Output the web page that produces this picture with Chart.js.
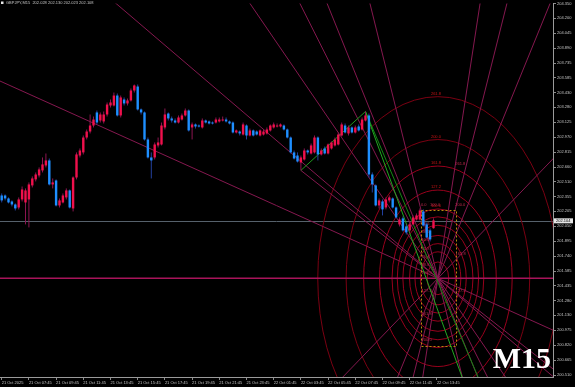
<!DOCTYPE html>
<html>
<head>
<meta charset="utf-8">
<script src="https://cdn.jsdelivr.net/npm/chart.js@4.4.1/dist/chart.umd.min.js"></script>
<style>
  html, body { margin: 0; padding: 0; background: #000; }
  canvas { display: block; }
</style>
</head>
<body>
<canvas id="chart" width="575" height="387"></canvas>
<script>
// GBPJPY M15 candles, one entry per bar
const opens = [
  202.366,202.366,202.335,202.304,202.273,202.242,202.325,202.294,202.325,202.470,
  202.532,202.573,202.625,202.676,202.728,202.480,202.521,202.263,202.294,202.346,
  202.418,202.232,202.552,202.779,202.811,202.965,203.027,203.089,203.224,203.141,
  203.131,203.203,203.296,203.296,203.399,203.193,203.358,203.317,203.348,203.451,
  203.492,203.255,203.224,202.945,202.759,202.759,202.883,202.893,203.069,203.213,
  203.162,203.141,203.120,203.151,203.193,203.244,203.069,203.100,203.089,203.069,
  203.141,203.131,203.120,203.120,203.131,203.141,203.151,203.131,203.120,203.017,
  203.027,202.996,203.089,202.986,203.038,203.027,202.986,202.996,203.007,203.038,
  203.069,203.079,203.079,203.089,203.048,202.965,202.811,202.779,202.707,202.738,
  202.831,202.800,202.811,202.965,202.790,202.852,202.800,202.852,202.883,202.893,
  202.986,203.089,203.007,203.069,203.017,203.079,203.048,203.141,203.193,202.583,
  202.470,202.263,202.304,202.242,202.315,202.335,202.242,202.067,202.129,202.046,
  202.005,202.067,202.118,202.118,202.201,202.067,202.005,202.028
];
const highs = [
  202.387,202.377,202.346,202.315,202.284,202.346,202.459,202.439,202.501,202.563,
  202.604,202.656,202.759,202.800,202.748,202.542,202.532,202.335,202.387,202.439,
  202.428,202.563,202.811,202.852,202.986,203.048,203.203,203.182,203.244,203.224,
  203.234,203.327,203.358,203.430,203.420,203.399,203.379,203.368,203.472,203.513,
  203.513,203.265,203.234,202.965,202.811,202.914,202.965,203.120,203.265,203.224,
  203.182,203.162,203.193,203.213,203.265,203.255,203.120,203.110,203.100,203.162,
  203.151,203.141,203.131,203.172,203.172,203.182,203.172,203.141,203.131,203.048,
  203.038,203.120,203.100,203.058,203.048,203.038,203.048,203.048,203.069,203.100,
  203.120,203.110,203.110,203.100,203.058,202.976,202.831,202.811,202.779,202.852,
  202.841,202.903,202.986,202.976,202.852,202.872,202.903,202.924,202.965,203.017,
  203.120,203.110,203.089,203.079,203.089,203.100,203.172,203.234,203.213,202.604,
  202.480,202.335,202.325,202.346,202.366,202.346,202.253,202.139,202.149,202.067,
  202.087,202.160,202.180,202.232,202.222,202.087,202.025,202.130
];
const lows = [
  202.294,202.315,202.284,202.253,202.211,202.222,202.304,202.067,202.036,202.449,
  202.511,202.552,202.604,202.656,202.470,202.439,202.253,202.242,202.284,202.325,
  202.232,202.201,202.532,202.759,202.790,202.945,203.007,203.069,203.100,203.120,
  203.110,203.182,203.275,203.286,203.182,203.172,203.296,203.296,203.337,203.430,
  203.244,203.203,202.934,202.748,202.542,202.738,202.862,202.883,203.048,203.141,
  203.120,203.110,203.110,203.141,203.182,203.027,202.945,203.058,203.069,203.058,
  203.110,203.100,203.100,203.110,203.120,203.131,203.120,203.100,203.007,203.007,
  202.986,202.986,202.945,202.976,202.976,202.986,202.976,202.986,202.996,203.027,
  203.058,203.069,203.069,203.038,202.955,202.800,202.738,202.707,202.625,202.728,
  202.790,202.790,202.800,202.728,202.779,202.790,202.790,202.841,202.872,202.883,
  202.976,203.007,202.986,203.007,203.007,203.027,203.038,203.131,202.552,202.397,
  202.253,202.232,202.160,202.222,202.294,202.232,202.129,202.046,201.994,201.963,
  201.984,202.056,202.108,202.108,202.046,201.922,201.891,202.023
];
const closes = [
  202.315,202.335,202.294,202.273,202.232,202.325,202.428,202.418,202.480,202.542,
  202.583,202.635,202.687,202.728,202.480,202.501,202.263,202.315,202.366,202.418,
  202.242,202.552,202.790,202.831,202.965,203.027,203.089,203.151,203.120,203.203,
  203.203,203.306,203.327,203.399,203.193,203.379,203.317,203.348,203.451,203.503,
  203.255,203.224,202.945,202.759,202.728,202.893,202.914,203.089,203.203,203.162,
  203.141,203.120,203.172,203.193,203.244,203.038,203.100,203.079,203.079,203.141,
  203.120,203.110,203.110,203.151,203.151,203.151,203.131,203.110,203.017,203.038,
  203.007,203.100,202.986,203.038,202.986,202.996,203.038,203.027,203.048,203.089,
  203.100,203.089,203.100,203.048,202.965,202.811,202.748,202.717,202.759,202.831,
  202.811,202.883,202.965,202.790,202.831,202.800,202.893,202.914,202.945,202.996,
  203.100,203.017,203.069,203.017,203.069,203.038,203.151,203.193,202.583,202.480,
  202.263,202.315,202.222,202.325,202.346,202.242,202.139,202.118,202.005,201.984,
  202.067,202.139,202.160,202.211,202.056,201.932,201.912,202.108
];

const timeLabels = ["21 Oct 2025","21 Oct 07:45","21 Oct 09:45","21 Oct 11:45","21 Oct 13:45",
  "21 Oct 15:45","21 Oct 17:45","21 Oct 19:45","21 Oct 21:45","21 Oct 23:45","22 Oct 01:45",
  "22 Oct 03:45","22 Oct 05:45","22 Oct 07:45","22 Oct 09:45","22 Oct 11:45","22 Oct 13:45"];
const timeLabelBars = [0,8,16,24,32,40,48,56,64,72,80,88,96,104,112,120,128];

const priceTicks = [200.510,200.665,200.820,200.975,201.130,201.280,201.435,201.585,201.740,
  201.895,202.050,202.205,202.355,202.510,202.660,202.815,202.970,203.125,203.280,203.430,
  203.585,203.735,203.890,204.045,204.200,204.350];

const titleText = "GBPJPY,M15  202.028 202.130 202.023 202.108";
const bidPrice = 202.104;

// fibo arcs / fan: centre (bar, price), radii of the 100% arc in bars and price
const arcCenter = [128.3, 201.51];
const arcRadius100 = [13.5, 0.717];
const arcLevels = [0.236,0.382,0.5,0.618,0.764,0.886,1,1.272,1.618,2,2.618];
const arcLabelLevels = [1,1.272,1.618,2,2.618];
// second point of every fan line through the centre
const fanPoints = [[33.6,204.351],[73.0,204.351],[87.7,204.351],[95.7,204.351],[108.3,204.351],
  [140.7,204.351],[148.6,204.351],[161.3,204.351],[162.1,202.743],[162.1,201.51],[162.1,200.975]];
// swing points for the green lines
const swingLow = [88, 202.625];
const swingHigh = [107, 203.234];
const greenEnds = [[135.4, 200.49],[140.1, 200.49]];
// dashed box and its level texts
const boxCorners = [[123.3, 202.221],[133.6, 200.818]];
const boxLabels = [
  [123.3,202.272,"0.0"],[126.0,202.272,"100.0"],[133.4,202.272,"200.0"],[133.4,202.692,"261.8"],
  [123.5,202.077,"23.6"],[123.5,201.985,"38.2"],[123.5,201.903,"50.0"],[123.5,201.811,"61.8"],
  [123.5,201.729,"76.4"],[123.5,201.647,"88.6"],[123.5,201.565,"100.0"],[123.5,201.381,"127.2"],
  [123.5,201.145,"161.8"],[123.5,200.869,"200.0"],[133.5,201.760,"161.8"],[133.5,201.381,"127.2"]
];

const xMin = -0.5, xMax = 162.15;
const yMin = 200.49, yMax = 204.351;
const FONT = "'Liberation Sans', Arial, sans-serif";

const drawPlugin = {
  id: "mt4draw",
  beforeDatasetsDraw(chart) {
    const { ctx, chartArea: a, scales: { x, y } } = chart;
    ctx.save();
    ctx.beginPath();
    ctx.rect(a.left, a.top, a.right - a.left, a.bottom - a.top);
    ctx.clip();

    // bid line
    const by = Math.round(y.getPixelForValue(bidPrice)) + 0.5;
    ctx.strokeStyle = "#56616b";
    ctx.lineWidth = 1;
    ctx.beginPath(); ctx.moveTo(a.left, by); ctx.lineTo(a.right, by); ctx.stroke();

    const cx = x.getPixelForValue(arcCenter[0]);
    const cy = y.getPixelForValue(arcCenter[1]);

    // arcs
    arcLevels.forEach(k => {
      const rx = Math.abs(x.getPixelForValue(arcCenter[0] + arcRadius100[0] * k) - cx);
      const ry = Math.abs(y.getPixelForValue(arcCenter[1] + arcRadius100[1] * k) - cy);
      ctx.strokeStyle = k >= 2 ? "#7a0012" : "#98001c";
      ctx.beginPath();
      ctx.ellipse(cx, cy, rx, ry, 0, 0, Math.PI * 2);
      ctx.stroke();
    });

    // fan lines through the centre
    fanPoints.forEach((p, i) => {
      const px = x.getPixelForValue(p[0]), py = y.getPixelForValue(p[1]);
      const dx = px - cx, dy = py - cy, len = Math.hypot(dx, dy);
      ctx.strokeStyle = i === 9 ? "#a8145a" : "#85184f";
      ctx.lineWidth = i === 9 ? 1.4 : 1;
      ctx.beginPath();
      ctx.moveTo(cx - dx / len * 1500, cy - dy / len * 1500);
      ctx.lineTo(cx + dx / len * 1500, cy + dy / len * 1500);
      ctx.stroke();
    });
    // ray from the swing low through the centre
    {
      const lx = x.getPixelForValue(swingLow[0]), ly = y.getPixelForValue(swingLow[1]);
      const dx = cx - lx, dy = cy - ly, len = Math.hypot(dx, dy);
      ctx.strokeStyle = "#85184f"; ctx.lineWidth = 1;
      ctx.beginPath(); ctx.moveTo(lx, ly);
      ctx.lineTo(lx + dx / len * 1500, ly + dy / len * 1500); ctx.stroke();
    }

    // dashed box
    const bx0 = x.getPixelForValue(boxCorners[0][0]), by0 = y.getPixelForValue(boxCorners[0][1]);
    const bx1 = x.getPixelForValue(boxCorners[1][0]), by1 = y.getPixelForValue(boxCorners[1][1]);
    ctx.strokeStyle = "#b58a0c"; ctx.setLineDash([2, 2]);
    ctx.strokeRect(Math.round(bx0) + 0.5, Math.round(by0) + 0.5, Math.round(bx1 - bx0), Math.round(by1 - by0));
    ctx.setLineDash([]);

    // level texts
    ctx.font = "4px " + FONT;
    ctx.textBaseline = "bottom";
    ctx.fillStyle = "#c81414";
    ctx.textAlign = "center";
    arcLabelLevels.forEach(k => {
      const ty = y.getPixelForValue(arcCenter[1] + arcRadius100[1] * k);
      ctx.fillText((k * 100).toFixed(1), cx - 2, ty - 1);
    });
    ctx.textAlign = "left";
    ctx.fillStyle = "#c0284c";
    boxLabels.forEach(l => {
      ctx.fillText(l[2], x.getPixelForValue(l[0]), y.getPixelForValue(l[1]) + 2);
    });
    ctx.restore();
  },
  afterDatasetsDraw(chart) {
    const { ctx, chartArea: a, scales: { x, y } } = chart;
    ctx.save();
    ctx.beginPath();
    ctx.rect(a.left, a.top, a.right - a.left, a.bottom - a.top);
    ctx.clip();
    for (let i = 0; i < closes.length; i++) {
      const px = x.getPixelForValue(i);
      const up = closes[i] >= opens[i];
      const yo = y.getPixelForValue(opens[i]), yc = y.getPixelForValue(closes[i]);
      const yh = y.getPixelForValue(highs[i]), yl = y.getPixelForValue(lows[i]);
      ctx.fillStyle = up ? "#8c1450" : "#23409e";
      ctx.fillRect(px - 0.5, yh, 1, yl - yh);
      ctx.fillStyle = up ? "#f0104c" : "#1e8fff";
      const top = Math.min(yo, yc), h = Math.max(1, Math.abs(yc - yo));
      ctx.fillRect(px - 1.2, top, 2.4, h);
    }
    ctx.restore();
  },
  afterDraw(chart) {
    const { ctx, chartArea: a, scales: { y } } = chart;
    ctx.save();
    // title
    ctx.fillStyle = "#e8e8e8";
    ctx.fillRect(1, 1.5, 2.5, 2.5);
    ctx.font = "4px " + FONT;
    ctx.fillStyle = "#c4c4c4";
    ctx.textBaseline = "middle";
    ctx.textAlign = "left";
    ctx.fillText(titleText, 6, 3);
    // timeframe stamp
    ctx.font = "bold 30px 'Liberation Serif', 'Times New Roman', serif";
    ctx.fillStyle = "#ffffff";
    ctx.textAlign = "right";
    ctx.textBaseline = "alphabetic";
    ctx.fillText("M15", 551, 368);
    // bid label on the price axis
    const by = y.getPixelForValue(bidPrice);
    ctx.fillStyle = "#e6e6e6";
    ctx.fillRect(a.right + 1, by - 2.5, 19, 5);
    ctx.fillStyle = "#000000";
    ctx.font = "4px " + FONT;
    ctx.textAlign = "left";
    ctx.textBaseline = "middle";
    ctx.fillText(bidPrice.toFixed(3), a.right + 3, by);
    ctx.restore();
  }
};

new Chart(document.getElementById("chart"), {
  type: "line",
  data: {
    datasets: [
      { data: [{ x: swingLow[0], y: swingLow[1] }, { x: swingHigh[0], y: swingHigh[1] }],
        borderColor: "#1f9a1f", borderWidth: 1, pointRadius: 0 },
      { data: [{ x: swingHigh[0], y: swingHigh[1] }, { x: greenEnds[0][0], y: greenEnds[0][1] }],
        borderColor: "#22a822", borderWidth: 1, pointRadius: 0 },
      { data: [{ x: swingHigh[0], y: swingHigh[1] }, { x: greenEnds[1][0], y: greenEnds[1][1] }],
        borderColor: "#128a12", borderWidth: 1, pointRadius: 0 }
    ]
  },
  options: {
    responsive: false,
    animation: false,
    layout: { padding: 0 },
    plugins: { legend: { display: false }, tooltip: { enabled: false } },
    scales: {
      x: {
        type: "linear",
        min: xMin,
        max: xMax,
        afterBuildTicks: s => { s.ticks = timeLabelBars.map(v => ({ value: v })); },
        afterFit: s => { s.height = 10; },
        grid: { drawOnChartArea: false, drawTicks: true, tickLength: 3, color: "#8a8a8a" },
        border: { display: true, color: "#9a9a9a" },
        ticks: {
          autoSkip: false, maxRotation: 0, align: "start", padding: 0,
          color: "#c4c4c4", font: { size: 4, family: FONT },
          callback: (v, i) => timeLabels[i]
        }
      },
      y: {
        type: "linear",
        position: "right",
        min: yMin,
        max: yMax,
        afterBuildTicks: s => { s.ticks = priceTicks.map(v => ({ value: v })); },
        afterFit: s => { s.width = 22; },
        grid: { drawOnChartArea: false, drawTicks: true, tickLength: 3, color: "#8a8a8a" },
        border: { display: true, color: "#9a9a9a" },
        ticks: {
          padding: 1, color: "#c4c4c4", font: { size: 4, family: FONT },
          callback: v => v.toFixed(3)
        }
      }
    }
  },
  plugins: [drawPlugin]
});
</script>
</body>
</html>
